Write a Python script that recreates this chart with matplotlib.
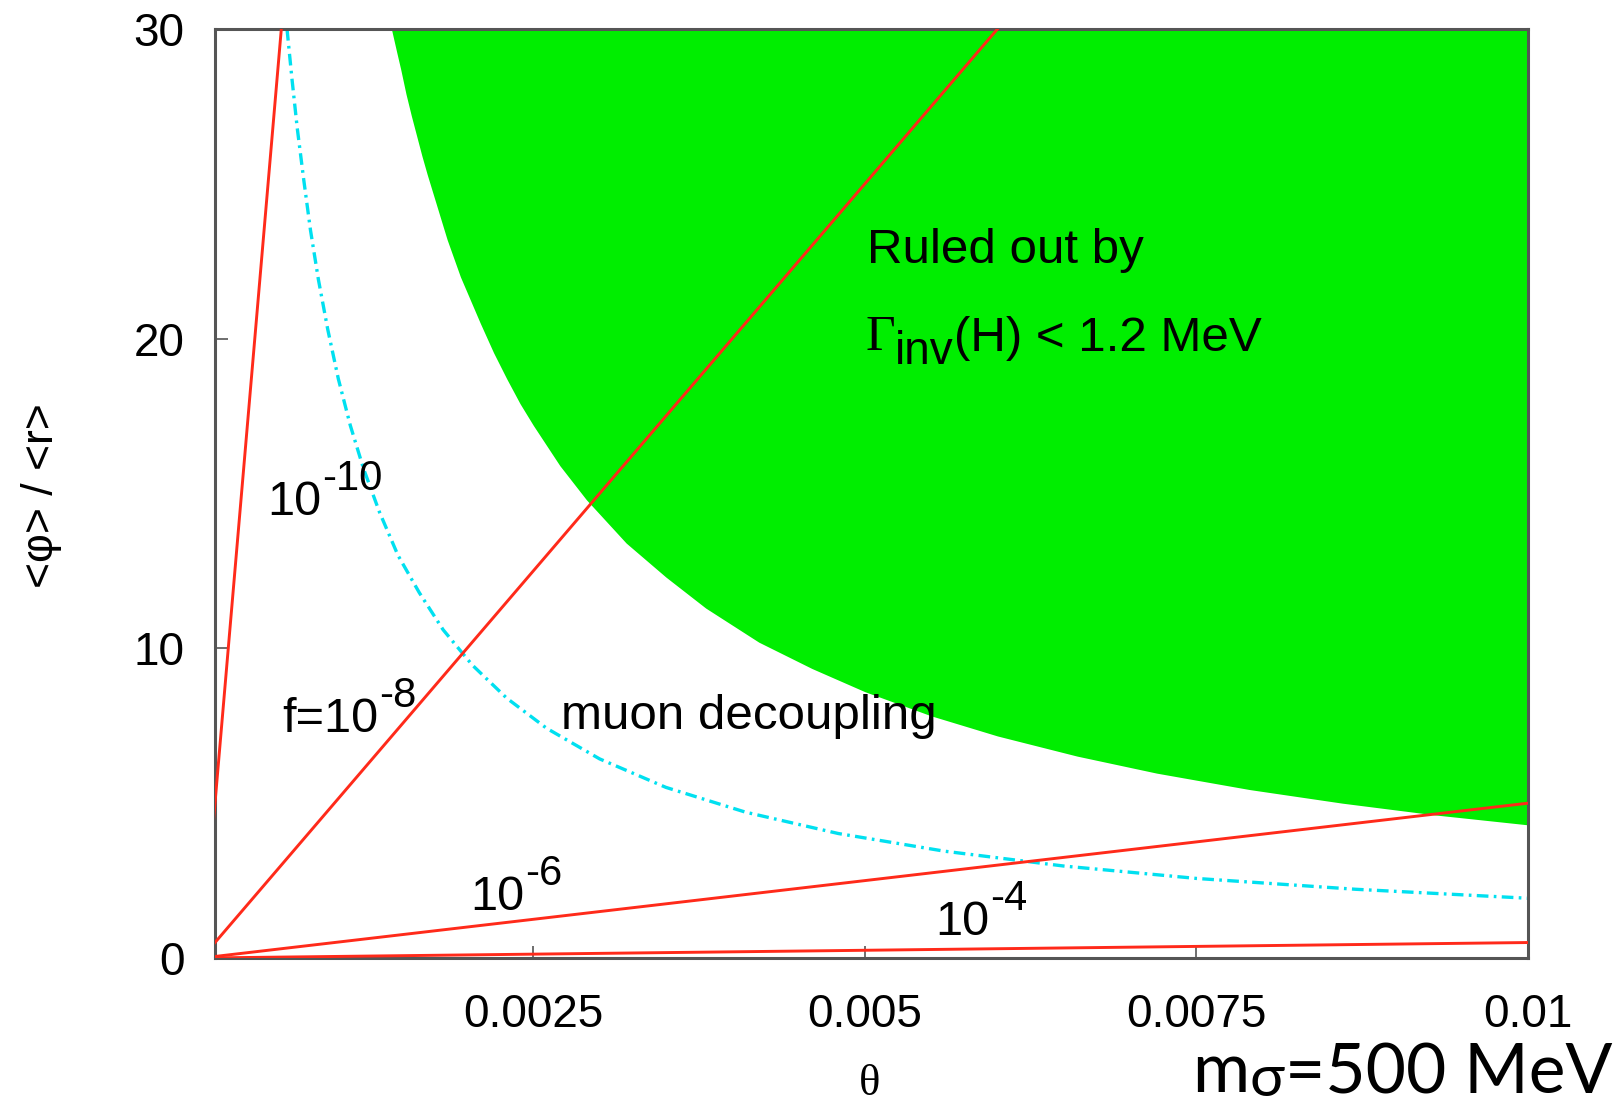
import numpy as np
import matplotlib
matplotlib.use("Agg")
from matplotlib import pyplot as plt

plt.rcParams['font.family'] = ['Liberation Sans', 'DejaVu Sans']

# red lines f = const : straight lines through the origin, value at theta = 0.01
line_f = ["1e-10", "1e-8", "1e-6", "1e-4"]
line_theta = [0.0, 0.01]
line_y_end = [500.0, 50.0, 5.0, 0.5]

# cyan dash-dot "muon decoupling" curve
cyan_theta = [0.000643, 0.00068, 0.00072, 0.00077, 0.00082, 0.00088, 0.00095,
              0.00103, 0.00112, 0.00122, 0.00134, 0.00148, 0.00164, 0.00182,
              0.00204, 0.0023, 0.0026, 0.003, 0.0035, 0.0041, 0.0048, 0.0056,
              0.0065, 0.0075, 0.0087, 0.01]
cyan_y = [30.0, 28.4, 26.8, 25.1, 23.5, 21.9, 20.3,
          18.7, 17.2, 15.8, 14.4, 13.0, 11.8, 10.6,
          9.46, 8.39, 7.42, 6.43, 5.51, 4.71, 4.02, 3.45,
          2.97, 2.57, 2.22, 1.93]

# lower edge of the green excluded region
green_theta = [0.00143, 0.00147, 0.0015, 0.00154, 0.00158, 0.00162, 0.00166,
               0.0017, 0.00175, 0.0018, 0.00185, 0.0019, 0.00195, 0.002,
               0.0021, 0.0022, 0.0023, 0.0024, 0.0025, 0.0027, 0.0029, 0.0032,
               0.0035, 0.0038, 0.0042, 0.0046, 0.005, 0.0055, 0.006, 0.0066,
               0.0072, 0.0079, 0.0086, 0.0093, 0.01]
green_y = [30.0, 29.25, 28.7, 27.9, 27.2, 26.55, 25.9,
           25.3, 24.6, 23.9, 23.2, 22.6, 22.0, 21.5,
           20.5, 19.55, 18.7, 17.9, 17.2, 15.9, 14.8, 13.4,
           12.3, 11.3, 10.2, 9.35, 8.6, 7.82, 7.17, 6.52,
           5.97, 5.44, 5.0, 4.62, 4.3]

xticks = [0.0025, 0.005, 0.0075, 0.01]
xticklabels = ["0.0025", "0.005", "0.0075", "0.01"]
yticks = [0, 10, 20, 30]

RED = '#ff2a1a'
CYAN = '#00e0f0'
GREEN = '#00ee00'
AXC = '#555555'

fig = plt.figure(figsize=(16.19, 11.06), dpi=100)
ax = fig.add_axes([0.1328, 0.1338, 0.8110, 0.8400])
ax.set_xlim(1e-4, 0.01)
ax.set_ylim(0, 30)

ax.fill_between(green_theta, green_y, 30, color=GREEN, lw=0, zorder=1)
ax.plot(cyan_theta, cyan_y, color=CYAN, lw=2.4, ls=(0, (3.5, 1.6, 0.8, 1.6)),
        zorder=2)
for ye in line_y_end:
    ax.plot(line_theta, [0, ye], color=RED, lw=2.1, zorder=3)

for s in ax.spines.values():
    s.set_color(AXC)
    s.set_linewidth(2.2)
ax.set_xticks(xticks)
ax.set_xticklabels(xticklabels)
ax.set_yticks(yticks)
ax.tick_params(direction='in', length=9, width=1.2, color=AXC, labelsize=33)
ax.tick_params(axis='x', pad=25)
ax.tick_params(axis='y', pad=22)


def powlabel(x, y, pre, sup, size=35):
    t = ax.text(x, y, pre, fontsize=size, va='baseline', ha='left', zorder=5)
    ax.annotate(sup, xy=(1, 0), xycoords=t, xytext=(1, 25),
                textcoords='offset points', fontsize=size * 0.86,
                va='baseline', ha='left', zorder=5)


powlabel(0.000492, 14.30, "10", "-10")
powlabel(0.000605, 7.30, "f=10", "-8")
powlabel(0.002023, 1.55, "10", "-6")
powlabel(0.005529, 0.743, "10", "-4")

ax.text(0.002709, 7.39, "muon decoupling", fontsize=35.5, va='baseline', zorder=5)
ax.text(0.005016, 22.44, "Ruled out by", fontsize=35.5, va='baseline', zorder=5)
g = ax.text(0.005001, 19.63, "Γ", fontsize=37, family='Liberation Serif',
            va='baseline', zorder=5)
inv = ax.annotate("inv", xy=(1, 0), xycoords=g, xytext=(0, -2),
                  textcoords='offset points', fontsize=33, va='baseline', zorder=5)
ax.annotate("(H) < 1.2 MeV", xy=(1, 0), xycoords=(inv, g), xytext=(0, 7.5),
            textcoords='offset points', fontsize=35.5, va='baseline', zorder=5)

fig.text(41 / 1619, 1 - 496 / 1106, "<φ> / <r>", rotation=90, fontsize=32,
         ha='center', va='center')
fig.text(870 / 1619, 1 - 1084 / 1106, "θ", fontsize=32,
         family='Liberation Serif', ha='center', va='center')

# slide caption, built right to left
cap_font = ['Lato', 'DejaVu Sans']
e = fig.text(1612 / 1619, 1 - 1093 / 1106, "=500 MeV", fontsize=50,
             family=cap_font, ha='right', va='baseline')
sig = ax.annotate("σ", xy=(0, 0), xycoords=e, xytext=(0, 6.5),
                  textcoords='offset points', fontsize=42, family=cap_font,
                  ha='right', va='baseline', annotation_clip=False)
ax.annotate("m", xy=(0, 0), xycoords=(sig, e), xytext=(0, 9.5),
            textcoords='offset points', fontsize=50, family=cap_font,
            ha='right', va='baseline', annotation_clip=False)

fig.savefig("out.png", dpi=100)
